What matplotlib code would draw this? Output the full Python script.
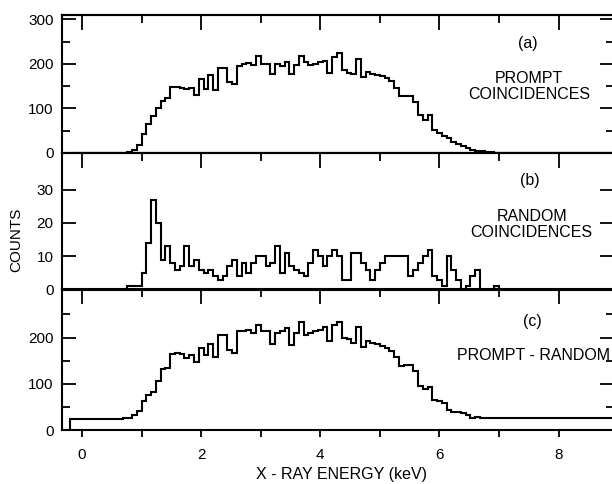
"""Three stacked x-ray energy spectra: prompt, random and prompt - random."""

import matplotlib

matplotlib.use("Agg")
import matplotlib.pyplot as plt
import numpy as np

plt.rcParams["font.family"] = ["Liberation Sans", "DejaVu Sans"]

# energy channels (keV)
bin_start = -0.2
bin_width = 0.08
n_bins = 115

x_major = [0, 2, 4, 6, 8]
x_minor = [1, 3, 5, 7]

# counts per channel
prompt = [
    0, 0, 0, 0, 0, 0, 0, 0, 0, 0,
    0, 1, 2,
    7, 18, 43, 65, 83, 100, 117, 123, 149, 149,
    146, 143, 147, 130, 166, 143, 175, 142, 191, 191,
    160, 155, 196, 200, 203, 197, 218, 201, 199, 177,
    199, 195, 204, 177, 197, 218, 204, 197, 201, 204,
    207, 180, 216, 225, 187, 180, 178, 211, 171, 183,
    178, 176, 172, 168, 161, 146, 128, 128, 127, 115,
    85, 74, 85, 52, 45, 38, 34, 25, 20, 15,
    11, 7, 4, 4, 2, 2, 1, 1, 1, 1,
    1, 1, 1, 1, 1, 1, 1, 1, 0, 0,
    0, 0, 0, 0, 0, 0, 0, 0, 0, 0, 0, 0,
]

random_counts = [
    0, 0, 0, 0, 0, 0, 0, 0, 0, 0,
    0, 0, 1,
    1, 1, 5, 14, 27, 20, 9, 13, 8, 6,
    7, 13, 7, 9, 6, 5, 6, 4, 3, 4,
    7, 9, 4, 8, 5, 8, 10, 10, 7, 8,
    13, 5, 11, 7, 6, 5, 4, 8, 12, 10,
    7, 10, 12, 10, 3, 3, 11, 11, 8, 6,
    3, 6, 8, 10, 10, 10, 10, 10, 4, 6,
    8, 10, 12, 4, 3, 1, 10, 6, 3, 0,
    1, 4, 6, 0, 0, 0, 1, 0, 0, 0,
    0, 0, 0, 0, 0, 0, 0, 0, 0, 0,
    0, 0, 0, 0, 0, 0, 0, 0, 0, 0, 0, 0,
]

difference = [
    24, 24, 24, 24, 24, 24, 24, 24, 24, 24,
    24, 25, 27,
    32, 41, 62, 76, 82, 105, 133, 135, 165, 167,
    165, 156, 162, 148, 178, 162, 185, 159, 206, 206,
    174, 167, 214, 214, 217, 210, 228, 215, 214, 186,
    210, 215, 220, 183, 210, 234, 206, 210, 214, 217,
    222, 193, 228, 234, 198, 196, 188, 222, 179, 193,
    188, 185, 181, 178, 172, 159, 138, 140, 140, 127,
    96, 89, 94, 65, 63, 58, 43, 40, 38, 36,
    33, 27, 29, 27, 26, 26, 26, 26, 26, 26,
    26, 26, 26, 26, 26, 26, 26, 26, 26, 26,
    26, 26, 26, 26, 26, 26, 26, 26, 26, 26, 26, 26,
]

edges = bin_start + bin_width * np.arange(n_bins + 1)

fig = plt.figure(figsize=(6.12, 4.84), dpi=100)

left, width = 62 / 612, 552 / 612
ax_a = fig.add_axes([left, 1 - 153 / 484, width, 138 / 484])
ax_b = fig.add_axes([left, 1 - 289.5 / 484, width, 136.5 / 484])
ax_c = fig.add_axes([left, 1 - 430 / 484, width, 140.5 / 484])


def style_panel(ax, ymax, yticks, yminor, bottom=False):
    ax.set_xlim(-0.336, 8.93)
    ax.set_ylim(0, ymax)
    for s in ax.spines.values():
        s.set_linewidth(1.5)

    ax.set_yticks(yticks)
    ax.set_yticks(yminor, minor=True)
    ax.tick_params(axis="y", which="both", direction="in", left=True,
                   right=True, width=1.3, labelsize=11, pad=6)
    ax.tick_params(axis="y", which="major", length=10)
    ax.tick_params(axis="y", which="minor", length=5.5)

    # top ticks point inward
    sec = ax.secondary_xaxis("top")
    sec.set_xticks(x_major)
    sec.set_xticks(x_minor, minor=True)
    sec.tick_params(axis="x", which="both", direction="in", width=1.3,
                    labeltop=False)
    sec.tick_params(axis="x", which="major", length=10.5)
    sec.tick_params(axis="x", which="minor", length=6)
    sec.spines["top"].set_linewidth(1.5)

    ax.set_xticks(x_major)
    ax.set_xticks(x_minor, minor=True)
    if bottom:
        ax.tick_params(axis="x", which="both", direction="out", length=5,
                       width=1.3, labelsize=11, pad=8)
    else:
        ax.tick_params(axis="x", which="both", bottom=False,
                       labelbottom=False)


ax_a.stairs(prompt, edges, color="black", lw=1.5)
style_panel(ax_a, 310, [0, 100, 200, 300], [50, 150, 250])
ax_a.text(0.844, 0.797, "(a)", transform=ax_a.transAxes, ha="center",
          va="center", fontsize=11.5)
ax_a.text(0.846, 0.482, "PROMPT\nCOINCIDENCES", transform=ax_a.transAxes,
          ha="center", va="center", fontsize=11.5, linespacing=1.1)

ax_b.stairs(random_counts, edges, color="black", lw=1.5)
style_panel(ax_b, 41, [0, 10, 20, 30], [])
ax_b.text(0.848, 0.801, "(b)", transform=ax_b.transAxes, ha="center",
          va="center", fontsize=11.5)
ax_b.text(0.851, 0.478, "RANDOM\nCOINCIDENCES", transform=ax_b.transAxes,
          ha="center", va="center", fontsize=11.5, linespacing=1.1)

ax_c.stairs(difference, edges, color="black", lw=1.5)
style_panel(ax_c, 304, [0, 100, 200], [50, 150, 250], bottom=True)
ax_c.text(0.853, 0.771, "(c)", transform=ax_c.transAxes, ha="center",
          va="center", fontsize=11.5)
ax_c.text(0.855, 0.529, "PROMPT - RANDOM", transform=ax_c.transAxes,
          ha="center", va="center", fontsize=11.5)

fig.text(0.027, 1 - 240 / 484, "COUNTS", rotation=90, ha="center",
         va="center", fontsize=11)
fig.text(341 / 612, 1 - 474 / 484, "X - RAY ENERGY (keV)", ha="center",
         va="center", fontsize=11.5)

fig.savefig("out.png", dpi=100)
